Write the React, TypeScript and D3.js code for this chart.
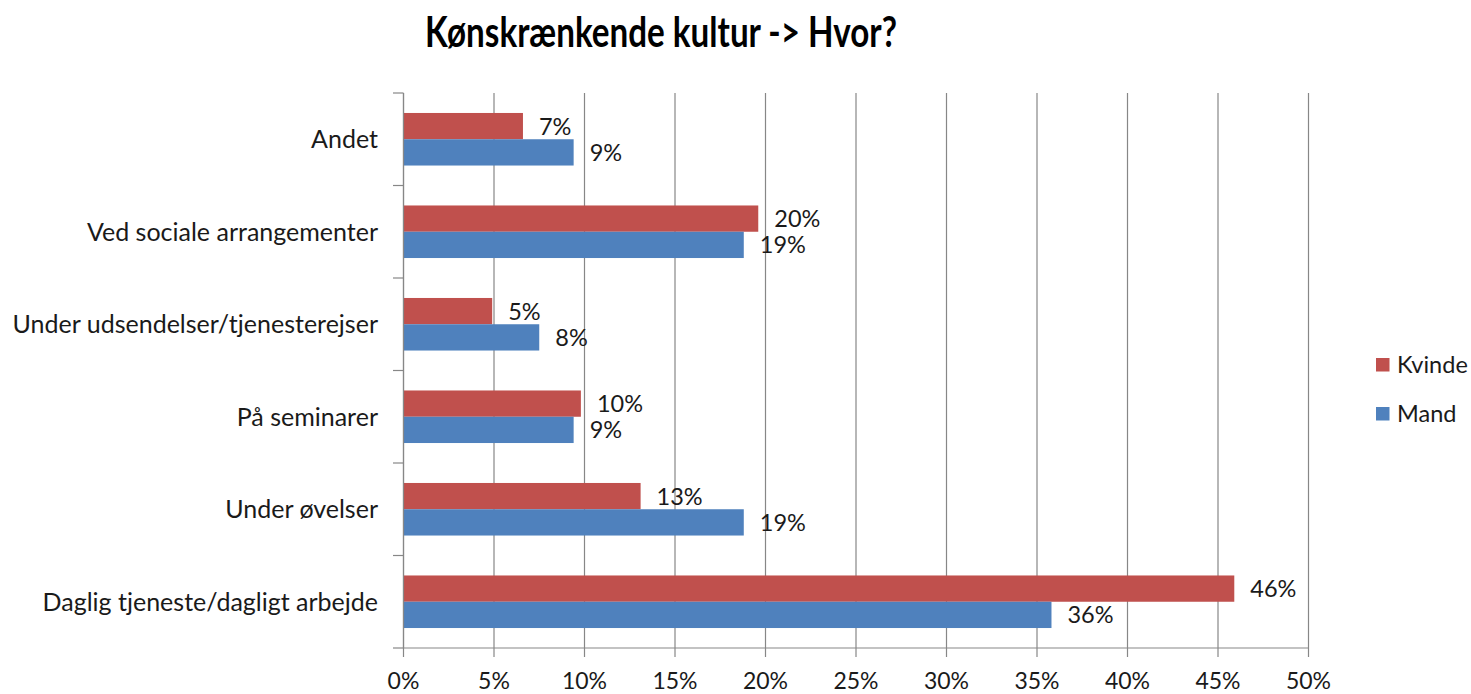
import React from "react";
import * as d3 from "d3";

const title = "Kønskrænkende kultur -> Hvor?";
const categories = [
  "Andet",
  "Ved sociale arrangementer",
  "Under udsendelser/tjenesterejser",
  "På seminarer",
  "Under øvelser",
  "Daglig tjeneste/dagligt arbejde",
];
const seriesNames = ["Kvinde", "Mand"];
const kvinde = [0.066, 0.196, 0.049, 0.098, 0.131, 0.459];
const mand = [0.094, 0.188, 0.075, 0.094, 0.188, 0.358];
const xTicks = [0, 0.05, 0.1, 0.15, 0.2, 0.25, 0.3, 0.35, 0.4, 0.45, 0.5];
const colors = ["#C0504D", "#4F81BD"];

const W = 1471;
const H = 694;
const FONT = "Lato, 'Open Sans', sans-serif";

export default function App() {
  const x = d3.scaleLinear().domain([0, 0.5]).range([403.5, 1308.5]);
  const y = d3.scaleBand<string>().domain(categories).range([93, 648]).padding(0);
  const inner = d3
    .scaleBand<string>()
    .domain(seriesNames)
    .range([0, y.bandwidth()])
    .paddingInner(0)
    .paddingOuter(0.76);
  const series = [kvinde, mand];
  const fmt = d3.format(".0%");
  const textColor = "#1a1a1a";
  const gridColor = "#878787";

  return (
    <svg
      width={W}
      height={H}
      style={{ position: "fixed", left: 0, top: 0, background: "#fff" }}
      fontFamily={FONT}
    >
      <text
        x={661}
        y={47}
        textAnchor="middle"
        fontSize={42}
        fontWeight={700}
        fill="#000"
        textLength={472}
        lengthAdjust="spacingAndGlyphs"
      >
        {title}
      </text>
      {/* gridlines */}
      {xTicks.map((t) => (
        <line key={"g" + t} x1={x(t)} x2={x(t)} y1={93} y2={657} stroke={gridColor} strokeWidth={1.2} />
      ))}
      {/* y axis ticks */}
      {d3.range(categories.length + 1).map((i) => {
        const yy = 93 + i * y.step();
        return <line key={"yt" + i} x1={393} x2={403.5} y1={yy} y2={yy} stroke={gridColor} strokeWidth={1.2} />;
      })}
      {/* x axis line */}
      <line x1={403.5} x2={1308.5} y1={648} y2={648} stroke={gridColor} strokeWidth={1.2} />
      {/* bars */}
      {categories.map((c, ci) =>
        series.map((s, si) => {
          const by = (y(c) as number) + (inner(seriesNames[si]) as number);
          const bh = inner.bandwidth();
          return (
            <g key={c + si}>
              <rect x={x(0)} y={by} width={x(s[ci]) - x(0)} height={bh} fill={colors[si]} />
              <text
                x={x(s[ci]) + 16}
                y={by + bh / 2}
                dy="0.36em"
                fontSize={23.5}
                fill={textColor}
              >
                {fmt(s[ci])}
              </text>
            </g>
          );
        })
      )}
      {/* y axis line */}
      <line x1={403.5} x2={403.5} y1={93} y2={648} stroke={gridColor} strokeWidth={1.2} />
      {/* category labels */}
      {categories.map((c) => (
        <text
          key={"cl" + c}
          x={378}
          y={(y(c) as number) + y.bandwidth() / 2}
          dy="0.36em"
          textAnchor="end"
          fontSize={25}
          fill={textColor}
        >
          {c}
        </text>
      ))}
      {/* x tick labels */}
      {xTicks.map((t) => (
        <text key={"xl" + t} x={x(t)} y={689} textAnchor="middle" fontSize={23} fill={textColor}>
          {fmt(t)}
        </text>
      ))}
      {/* legend */}
      {seriesNames.map((n, i) => (
        <g key={"lg" + n} transform={`translate(1376, ${358 + i * 49})`}>
          <rect x={0} y={0} width={13.5} height={13.5} fill={colors[i]} />
          <text x={21} y={7} dy="0.36em" fontSize={23.5} fill={textColor}>
            {n}
          </text>
        </g>
      ))}
    </svg>
  );
}
